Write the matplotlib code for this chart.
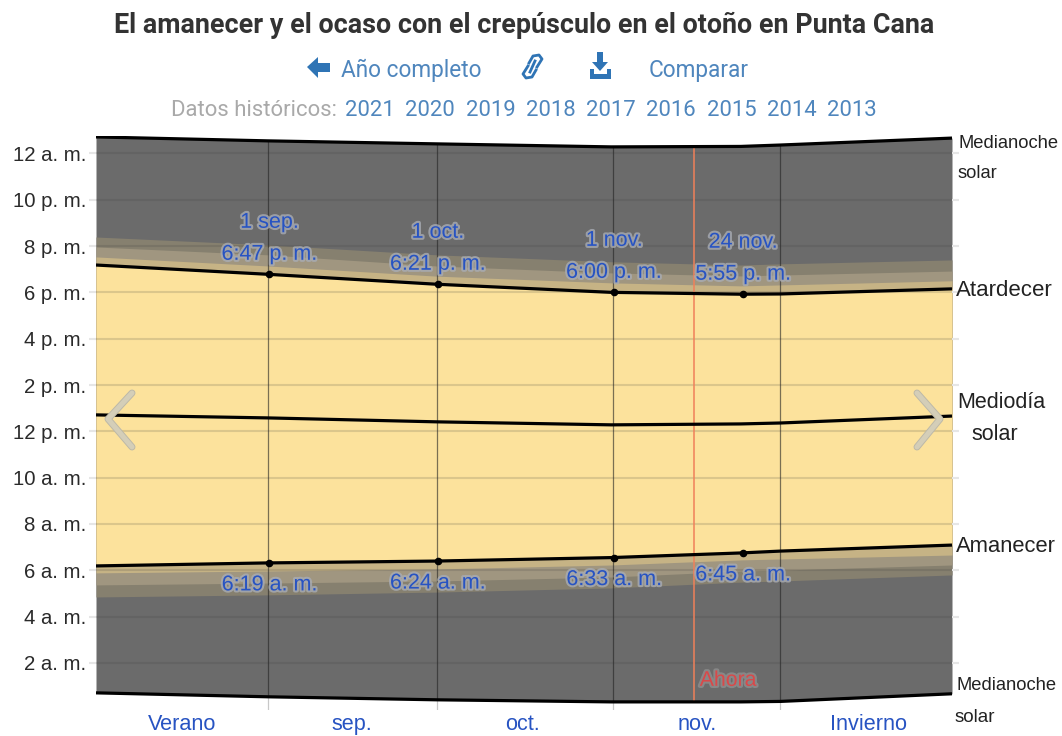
import matplotlib
matplotlib.use("Agg")
import matplotlib.pyplot as plt
import matplotlib.patheffects as pe
from matplotlib.patches import Polygon

W, H = 1062, 736

# days counted from 1 Sep
days = [-30.5, 0, 30, 61, 84, 91, 121.5]
midnight_top = [24.71, 24.54, 24.41, 24.28, 24.30, 24.36, 24.66]
midnight_bottom = [0.71, 0.54, 0.41, 0.32, 0.32, 0.34, 0.67]
noon = [12.71, 12.58, 12.41, 12.28, 12.32, 12.36, 12.66]
sunset = [19.18, 18.78, 18.35, 18.00, 17.92, 17.93, 18.15]
civil_pm = [19.53, 19.14, 18.70, 18.41, 18.28, 18.32, 18.50]
nautical_pm = [19.96, 19.62, 19.14, 18.84, 18.71, 18.75, 18.92]
astro_pm = [20.39, 20.05, 19.62, 19.32, 19.18, 19.23, 19.40]
sunrise = [6.19, 6.32, 6.40, 6.55, 6.75, 6.83, 7.09]
civil_am = [5.89, 5.97, 6.06, 6.23, 6.45, 6.49, 6.66]
nautical_am = [5.37, 5.45, 5.54, 5.71, 5.97, 6.01, 6.23]
astro_am = [4.85, 4.94, 5.06, 5.24, 5.49, 5.54, 5.80]

label_days = [0.3, 30.2, 61.5, 84.4]
label_dates = ["1 sep.", "1 oct.", "1 nov.", "24 nov."]
label_sunset = [18.78, 18.35, 18.00, 17.92]
label_sunset_txt = ["6:47 p. m.", "6:21 p. m.", "6:00 p. m.", "5:55 p. m."]
label_sunrise = [6.32, 6.40, 6.55, 6.75]
label_sunrise_txt = ["6:19 a. m.", "6:24 a. m.", "6:33 a. m.", "6:45 a. m."]

month_edges = [0, 30, 61.3, 91]
edge_top = [24.54, 24.41, 24.28, 24.36]
edge_bottom = [0.54, 0.41, 0.32, 0.34]
month_mid = [-15.3, 15, 45.3, 76.2, 106.6]
month_names = ["Verano", "sep.", "oct.", "nov.", "Invierno"]
hour_ticks = [2, 4, 6, 8, 10, 12, 14, 16, 18, 20, 22, 24]
hour_names = ["2 a. m.", "4 a. m.", "6 a. m.", "8 a. m.", "10 a. m.", "12 p. m.",
              "2 p. m.", "4 p. m.", "6 p. m.", "8 p. m.", "10 p. m.", "12 a. m."]
now_day = 75.7
years = ["2021", "2020", "2019", "2018", "2017", "2016", "2015", "2014", "2013"]
year_x = [370, 430, 491, 551, 611, 671, 732, 792, 852]

DAY = "#fce29c"
NIGHT = "#6b6b6b"
BLUE = "#2753c2"
LINK = "#4f86bd"
ICON = "#2f74b5"


def fx(x):
    return x / W


def fy(y):
    return 1 - y / H


def ftext(x, y, s, **kw):
    kw.setdefault("va", "center")
    return fig.text(fx(x), fy(y), s, **kw)


def icon(pts):
    fig.add_artist(Polygon([(fx(a), fy(b)) for a, b in pts], closed=True, color=ICON,
                           transform=fig.transFigure, lw=0))


plt.rcParams["font.family"] = ["Roboto", "DejaVu Sans"]
fig = plt.figure(figsize=(W / 100, H / 100), dpi=100)
ax = fig.add_axes([fx(96), fy(710), (952 - 96) / W, (710 - 136) / H])
ax.set_xlim(days[0], days[-1])
ax.set_ylim(-0.03, 24.75)
for s in ax.spines.values():
    s.set_visible(False)

# night, twilight, day layers
ax.fill_between(days, midnight_bottom, midnight_top, color=NIGHT, lw=0)
ax.fill_between(days, astro_am, astro_pm, color="#86806f", lw=0)
ax.fill_between(days, nautical_am, nautical_pm, color="#a09680", lw=0)
ax.fill_between(days, civil_am, civil_pm, color="#c6b385", lw=0)
ax.fill_between(days, sunrise, sunset, color=DAY, lw=0)

for ys in (midnight_top, midnight_bottom, noon, sunset, sunrise):
    ax.plot(days, ys, color="black", lw=2.3, zorder=4, solid_capstyle="butt")

# grid over the fills, ticks carry it past the edges
ax.set_axisbelow(False)
ax.set_yticks(hour_ticks, hour_names)
ax.grid(axis="y", color="#3c3c3c", alpha=0.17, lw=1.5)
ax.tick_params(axis="y", left=True, right=True, length=5, width=1.5, color="#e6e6e6",
               labelsize=14.7, pad=2, labelcolor="#2a2a2a")
for t in ax.get_yticklabels():
    t.set_family("Liberation Sans")
ax.vlines(month_edges, edge_bottom, edge_top, color="#222222", alpha=0.6, lw=0.9, zorder=3)
ax.vlines(month_edges, -0.03, edge_bottom, color="#c8c8c8", lw=0.9, zorder=3)
ax.vlines(now_day, 0.32, 24.3, color="#f0805a", lw=1.1, zorder=3)

ax.set_xticks([])
ax.set_xticks(month_mid, month_names, minor=True, color=BLUE, fontsize=15.6,
              family="Liberation Sans")
ax.tick_params(axis="x", which="minor", length=0, pad=3)

ax.scatter(label_days, label_sunset, s=20, color="black", zorder=5)
ax.scatter(label_days, label_sunrise, s=20, color="black", zorder=5)

halo = [pe.withStroke(linewidth=3, foreground="#a8acb4", alpha=0.8)]
lab_kw = dict(textcoords="offset pixels", ha="center", va="center", color=BLUE, fontsize=15.5,
              family="Liberation Sans", path_effects=halo, zorder=6)
for d, date, ys, t1, ya, t2 in zip(label_days, label_dates, label_sunset, label_sunset_txt,
                                   label_sunrise, label_sunrise_txt):
    ax.annotate(t1, (d, ys), xytext=(0, 20), **lab_kw)
    ax.annotate(date, (d, ys), xytext=(0, 52), **lab_kw)
    ax.annotate(t2, (d, ya), xytext=(0, -22), **lab_kw)
ax.annotate("Ahora", (now_day, 1.25), xytext=(34, 0), textcoords="offset pixels", ha="center",
            va="center", color="#d8494a", fontsize=15.3, family="Liberation Sans",
            path_effects=[pe.withStroke(linewidth=3, foreground="#8f8f8f", alpha=0.8)], zorder=6)

# right side names
side = dict(family="Liberation Sans", color="#222222")
ftext(958, 143, "Medianoche", fontsize=13.2, **side)
ftext(958, 173, "solar", fontsize=13.2, **side)
ftext(956, 291, "Atardecer", fontsize=16, **side)
ftext(957, 402, "Mediodía", fontsize=15.5, **side)
ftext(971, 434, "solar", fontsize=15.5, **side)
ftext(956, 547, "Amanecer", fontsize=15.8, **side)
ftext(957, 685, "Medianoche", fontsize=13.2, **side)
ftext(955, 717, "solar", fontsize=13.5, **side)

# header
ftext(524, 25, "El amanecer y el ocaso con el crepúsculo en el otoño en Punta Cana",
      ha="center", fontsize=19.4, fontweight="bold", color="#333333")
ftext(341, 70, "Año completo", fontsize=16.3, color=LINK)
ftext(649, 70, "Comparar", fontsize=16.3, color=LINK)
ftext(171, 110, "Datos históricos:", fontsize=15.9, color="#a9a9a9")
for x, y in zip(year_x, years):
    ftext(x, 110, y, ha="center", fontsize=15.9, color=LINK)

# icons
icon([(307, 67), (318, 57), (318, 63), (330, 63), (330, 72), (318, 72), (318, 78)])
icon([(597, 52), (603, 52), (603, 62), (608, 62), (600, 71), (592, 62), (597, 62)])
icon([(590, 69), (594, 69), (594, 74), (607, 74), (607, 69), (611, 69), (611, 79), (590, 79)])
for pts in ([(529, 63), (533, 56), (539, 55), (542, 59), (537, 67)],
            [(536, 70), (532, 77), (526, 78), (523, 74), (528, 66)],
            [(535, 61), (530, 72)]):
    fig.add_artist(plt.Line2D([fx(p[0]) for p in pts], [fy(p[1]) for p in pts], color=ICON,
                              lw=2, transform=fig.transFigure, solid_joinstyle="round"))

# carousel chevrons
chev = [pe.withStroke(linewidth=5, foreground="#bdb9a8")]
for xs in ([132, 108, 132], [917, 940, 917]):
    fig.add_artist(plt.Line2D([fx(x) for x in xs], [fy(393), fy(419), fy(447)], color="#d4ceb8",
                              lw=3.6, transform=fig.transFigure, path_effects=chev, zorder=8,
                              solid_capstyle="round", solid_joinstyle="round"))

fig.savefig("out.png", dpi=100)
